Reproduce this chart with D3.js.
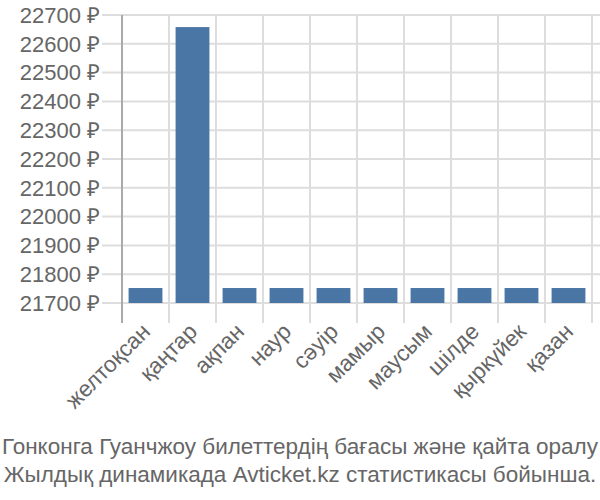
<!DOCTYPE html>
<html><head><meta charset="utf-8">
<script src="https://cdn.jsdelivr.net/npm/d3@7"></script>
<style>body{margin:0;background:#fff;}</style>
</head><body>
<svg id="c" width="600" height="500"></svg>
<script>
const months = ["желтоқсан","қаңтар","ақпан","наур","сәуір","мамыр","маусым","шілде","қыркүйек","қазан"];
const prices = [21752, 22658, 21752, 21752, 21752, 21752, 21752, 21752, 21752, 21752];
const yTicks = [21700,21800,21900,22000,22100,22200,22300,22400,22500,22600,22700];
const titleLines = ["Гонконга Гуанчжоу билеттердің бағасы және қайта оралу","Жылдық динамикада Avticket.kz статистикасы бойынша."];

(function(){
const svg = d3.select("#c");
const mLeft = 122, mRight = 592, mTop = 15, mBottom = 303;
const x = d3.scaleBand().domain(months).range([mLeft, mRight]).paddingInner(0.28).paddingOuter(0.14);
const xb = d3.scaleBand().domain(months).range([mLeft, mRight]);
const y = d3.scaleLinear().domain([21700, 22700]).range([mBottom, mTop]);
const textColor = "#666";

svg.append("g").selectAll("line").data(yTicks).join("line")
  .attr("x1", 102).attr("x2", 600)
  .attr("y1", d => y(d)).attr("y2", d => y(d))
  .attr("stroke", "#ddd").attr("stroke-width", 2);

const bounds = months.map(m => xb(m)).concat([mRight]);
svg.append("g").selectAll("line").data(bounds).join("line")
  .attr("x1", d => d).attr("x2", d => d)
  .attr("y1", mTop).attr("y2", mBottom + 20)
  .attr("stroke", (d,i) => i === 0 ? "#aaa" : "#ddd").attr("stroke-width", 2);

svg.append("g").selectAll("rect").data(prices).join("rect")
  .attr("x", (d,i) => x(months[i]))
  .attr("width", x.bandwidth())
  .attr("y", d => y(d))
  .attr("height", d => y(21700) - y(d))
  .attr("fill", "#4a76a6");

svg.append("g").selectAll("text").data(yTicks).join("text")
  .attr("x", 100).attr("y", d => y(d)).attr("dy", "0.35em")
  .attr("text-anchor", "end")
  .attr("font-family", "Liberation Sans, Arial, sans-serif")
  .attr("font-size", 22).attr("fill", textColor)
  .text(d => d + " ₽");

svg.append("g").selectAll("text").data(months).join("text")
  .attr("transform", m => `translate(${xb(m) + xb.bandwidth()/2 + 6},${mBottom + 30}) rotate(-45)`)
  .attr("text-anchor", "end")
  .attr("font-family", "Liberation Sans, Arial, sans-serif")
  .attr("font-size", 22.5).attr("fill", textColor)
  .text(m => m);

svg.append("g").selectAll("text").data(titleLines).join("text")
  .attr("x", 300).attr("y", (d,i) => 454 + i * 28)
  .attr("text-anchor", "middle")
  .attr("font-family", "Liberation Sans, sans-serif")
  .attr("font-size", 22.5).attr("fill", textColor)
  .text(d => d);
})();
</script>
</body></html>
